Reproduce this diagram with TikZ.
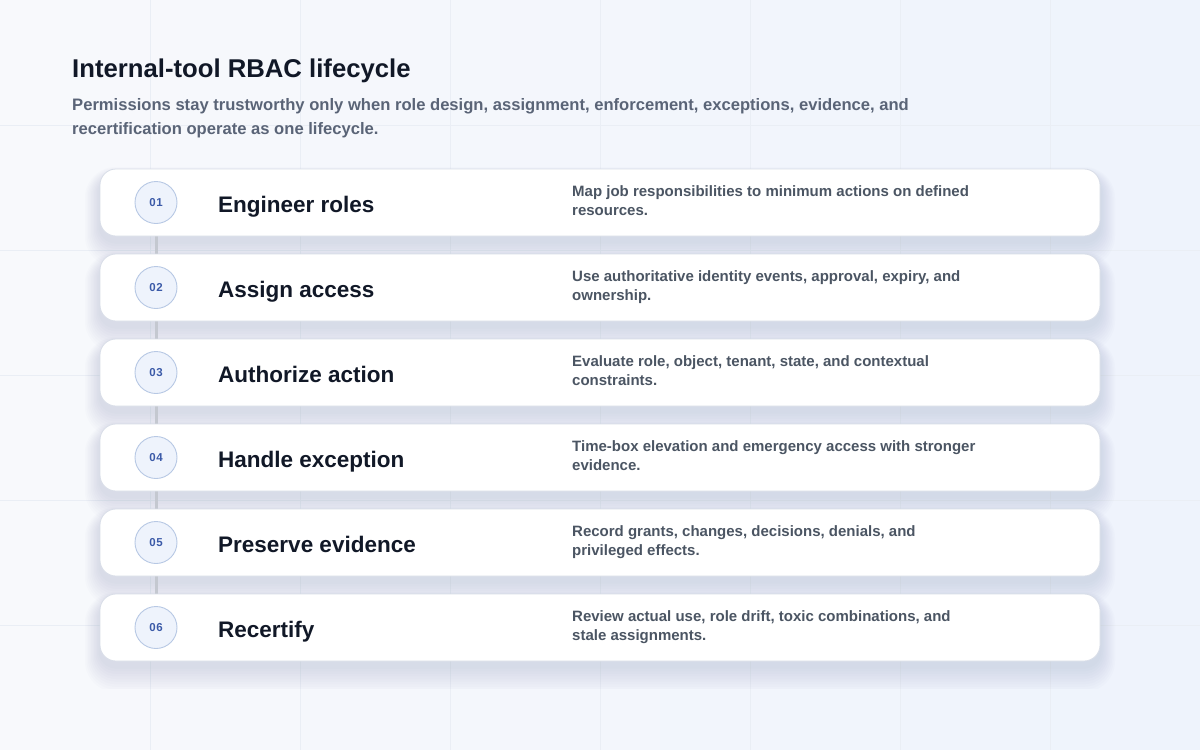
\documentclass[tikz,border=0pt]{standalone}
\usepackage{fontspec}
\setmainfont{Liberation Sans}
\definecolor{bgA}{HTML}{F8F9FC}
\definecolor{bgB}{HTML}{EEF3FC}
\definecolor{gridc}{HTML}{EAEEF5}
\definecolor{titlec}{HTML}{111827}
\definecolor{subc}{HTML}{5A6477}
\definecolor{descc}{HTML}{4B5563}
\definecolor{numc}{HTML}{3B5AA8}
\definecolor{circfill}{HTML}{EEF3FC}
\definecolor{circline}{HTML}{B7C8E4}
\definecolor{cardline}{HTML}{D9DEE8}
\definecolor{linkc}{HTML}{C4C8D0}
\definecolor{shadc}{HTML}{8E9AB8}
\tikzset{
  card/.style={draw=cardline, line width=0.8pt, fill=white, rounded corners=16pt,
    minimum width=1000pt, minimum height=67pt, inner sep=0pt},
  numcirc/.style={circle, draw=circline, line width=0.9pt, fill=circfill, minimum size=42pt, inner sep=0pt,
    font=\fontsize{11.5}{13}\selectfont\bfseries, text=numc},
  steptitle/.style={anchor=base west, inner sep=0pt, font=\fontsize{22.5}{26}\selectfont\bfseries, text=titlec},
  stepdesc/.style={anchor=base west, inner sep=0pt, align=left, font=\fontsize{15}{19.5}\selectfont\bfseries, text=descc},
  linkline/.style={draw=linkc, line width=3pt},
}
\begin{document}
\begin{tikzpicture}[x=1pt,y=-1pt]
\useasboundingbox (0,0) rectangle (1200,750);
\shade[left color=bgA, right color=bgB] (0,0) rectangle (1200,750);
\foreach \gx in {150,300,...,1050} \draw[gridc, line width=0.8pt] (\gx,0) -- (\gx,750);
\foreach \gy in {125,250,...,625} \draw[gridc, line width=0.8pt] (0,\gy) -- (1200,\gy);
% title
\node[anchor=base west, inner sep=0pt, font=\fontsize{25.7}{30}\selectfont\bfseries, text=titlec] (title) at (72,77) {Internal-tool RBAC lifecycle};
\node[anchor=base west, inner sep=0pt, align=left, font=\fontsize{16.6}{24.5}\selectfont\bfseries, text=subc] (sub) at (72,134.5)
  {Permissions stay trustworthy only when role design, assignment, enforcement, exceptions, evidence, and\\recertification operate as one lifecycle.};
% soft shadows
\begin{scope}
\clip (0,0) rectangle (1200,688);
\foreach \k in {0,...,5} {
  \foreach \s in {1,...,10} {
    \fill[shadc, opacity=0.026, rounded corners={16+1.5*\s}]
      ({100-1.5*\s},{169+85*\k+8-1.0*\s}) rectangle ({1100+1.5*\s},{236+85*\k+5+2.6*\s});
  }
}
\end{scope}
% connector lines behind cards
\foreach \i in {1,...,5} \draw[linkline] (156,{202.5+85*(\i-1)}) -- (156,{202.5+85*\i});
\foreach \i/\t/\da/\db [count=\k from 0] in {
  01/Engineer roles/Map job responsibilities to minimum actions on defined/resources.,
  02/Assign access/{Use authoritative identity events, approval, expiry, and}/ownership.,
  03/Authorize action/{Evaluate role, object, tenant, state, and contextual}/constraints.,
  04/Handle exception/Time-box elevation and emergency access with stronger/evidence.,
  05/Preserve evidence/{Record grants, changes, decisions, denials, and}/privileged effects.,
  06/Recertify/{Review actual use, role drift, toxic combinations, and}/stale assignments.} {
  \node[card] (card\i) at (600,{202.5+85*\k}) {};
  \node[numcirc] (num\i) at (156,{202.5+85*\k}) {0\kern0.6pt\pgfmathparse{int(\k+1)}\pgfmathresult};
  \node[steptitle] (ttl\i) at (218,{212+85*\k}) {\t};
  \node[stepdesc] (dsc\i) at (572,{215.5+85*\k}) {\da\\\db};
}
\end{tikzpicture}
\end{document}
